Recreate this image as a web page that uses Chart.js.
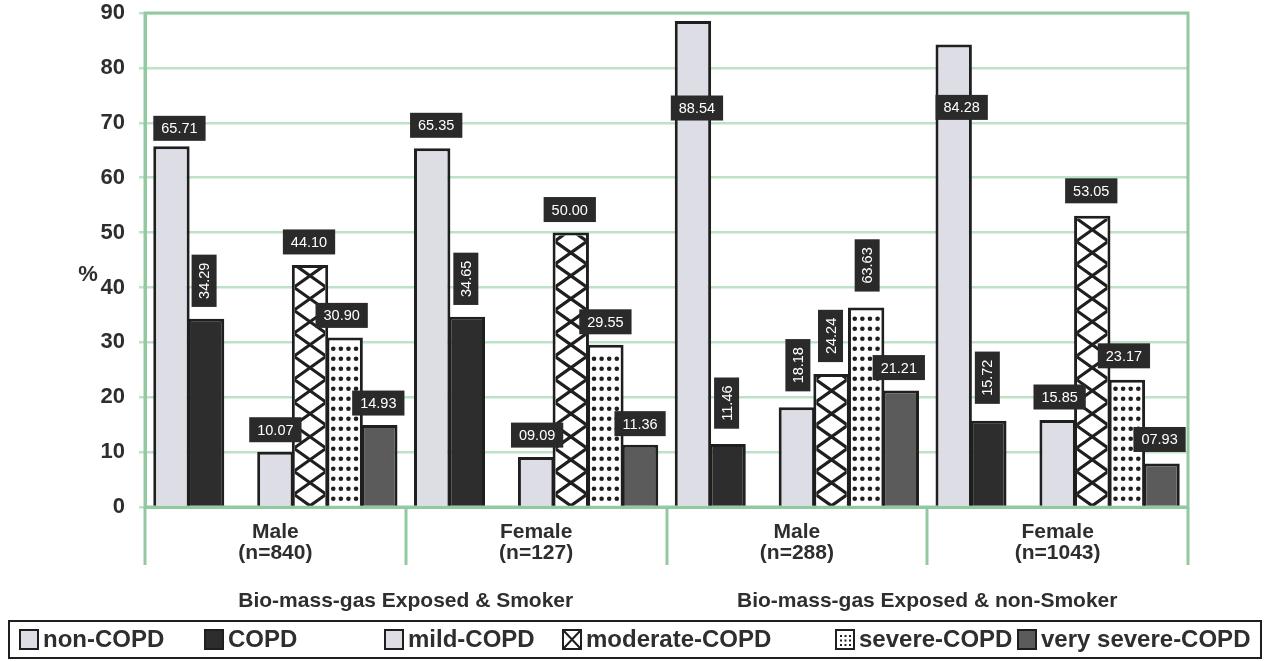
<!DOCTYPE html>
<html>
<head>
<meta charset="utf-8">
<script src="https://cdn.jsdelivr.net/npm/chart.js@4/dist/chart.umd.min.js"></script>
<style>
  html, body { margin: 0; padding: 0; background: #ffffff; }
  #wrap { width: 1271px; height: 661px; position: relative; }
</style>
</head>
<body>
<div id="wrap"><canvas id="c" width="1271" height="661"></canvas></div>
<script>
// ---------------- DATA ----------------
const categories = [["Male", "(n=840)"], ["Female", "(n=127)"], ["Male", "(n=288)"], ["Female", "(n=1043)"]];
const groupLabels = ["Bio-mass-gas Exposed & Smoker", "Bio-mass-gas Exposed & non-Smoker"];
const seriesNames = ["non-COPD", "COPD", "mild-COPD", "moderate-COPD", "severe-COPD", "very severe-COPD"];

const nonCOPD        = [65.71, 65.35, 88.54, 84.28];
const COPD           = [34.29, 34.65, 11.46, 15.72];
const mildCOPD       = [10.07, 9.09, 18.18, 15.85];
const moderateCOPD   = [44.10, 50.00, 24.24, 53.05];
const severeCOPD     = [30.90, 29.55, 36.36, 23.17];
const verySevereCOPD = [14.93, 11.36, 21.21, 7.93];

// printed data labels (as shown in the figure)
const nonCOPDText        = ["65.71", "65.35", "88.54", "84.28"];
const COPDText           = ["34.29", "34.65", "11.46", "15.72"];
const mildCOPDText       = ["10.07", "09.09", "18.18", "15.85"];
const moderateCOPDText   = ["44.10", "50.00", "24.24", "53.05"];
const severeCOPDText     = ["30.90", "29.55", "63.63", "23.17"];
const verySevereCOPDText = ["14.93", "11.36", "21.21", "07.93"];

const yMin = 0, yMax = 90, yStep = 10;

// ---------------- STYLE / LAYOUT ----------------
const FONT = '"Liberation Sans", Arial, Helvetica, sans-serif';
const TXT = '#2e2e2e';
const GRID_GREEN = '#bde2c5';
const BORDER_GREEN = '#93c9a0';
const INK = '#1f1f1f';
const LIGHT = '#dcdde5';

// label placement relative to bar top-centre: [dx, dy, vertical]
const labelPlacement = [
  [[8, -18, 0], [4, -23, 0], [4, 87, 0], [8, 63, 0]],          // non-COPD
  [[-2, -38, 1], [-1, -38, 1], [-1, -41, 1], [-1, -43, 1]],    // COPD
  [[0, -22, 0], [1, -22, 0], [1, -42, 1], [2, -23, 0]],        // mild
  [[-1, -23, 0], [-1, -23, 0], [-1, -38, 1], [-1, -25, 0]],    // moderate
  [[-3, -22, 0], [0, -23, 0], [1, -42, 1], [-3, -24, 0]],      // severe
  [[-1, -22, 0], [0, -21, 0], [-2, -23, 0], [-2, -24, 0]]      // very severe
];
const seriesTexts = [nonCOPDText, COPDText, mildCOPDText, moderateCOPDText, severeCOPDText, verySevereCOPDText];
// dataset index of each series (index 2 is an empty spacer slot)
const seriesDatasetIndex = [0, 1, 3, 4, 5, 6];

const legendSwatchX = [20, 205, 385, 563, 836, 1018];

function barDS(label, data, bg) {
  return { label, data, backgroundColor: bg, borderColor: INK, borderWidth: 3,
           borderSkipped: 'start', categoryPercentage: 0.93, barPercentage: 1.05 };
}

const datasets = [
  barDS(seriesNames[0], nonCOPD, LIGHT),
  barDS(seriesNames[1], COPD, '#2d2d2d'),
  barDS('', [null, null, null, null], 'rgba(0,0,0,0)'),
  barDS(seriesNames[2], mildCOPD, LIGHT),
  barDS(seriesNames[3], moderateCOPD, '#ffffff'),
  barDS(seriesNames[4], severeCOPD, '#ffffff'),
  barDS(seriesNames[5], verySevereCOPD, '#5b5b5b')
];

// ---------------- PATTERNS ----------------
function drawCross(ctx, l, r, t, b, cx) {
  const hw = (r - l) / 2 + 1;
  const P = 23;
  ctx.save();
  ctx.beginPath(); ctx.rect(l, t, r - l, b - t); ctx.clip();
  ctx.strokeStyle = INK; ctx.lineWidth = 3.2;
  const n = Math.ceil((b - t) / P) + 2;
  ctx.beginPath();
  for (let k = -2; k <= n; k++) {
    const y0 = b - k * P;
    ctx.moveTo(cx - 2 * hw, y0 + P); ctx.lineTo(cx + 2 * hw, y0 - P);
    ctx.moveTo(cx - 2 * hw, y0 - P); ctx.lineTo(cx + 2 * hw, y0 + P);
  }
  ctx.stroke();
  ctx.restore();
}
function drawDots(ctx, l, r, t, b) {
  ctx.save();
  ctx.beginPath(); ctx.rect(l, t, r - l, b - t); ctx.clip();
  ctx.fillStyle = INK;
  const cols = 4;
  for (let y = b - 7; y > t + 2; y -= 10) {
    for (let i = 0; i < cols; i++) {
      const x = l + (r - l) * (i + 0.5) / cols;
      ctx.beginPath(); ctx.arc(x, y, 2.3, 0, Math.PI * 2); ctx.fill();
    }
  }
  ctx.restore();
}

const decorPlugin = {
  id: 'decor',
  beforeDatasetsDraw(chart) {
    const { ctx, chartArea: a } = chart;
    ctx.save();
    ctx.strokeStyle = BORDER_GREEN; ctx.lineWidth = 3;
    ctx.strokeRect(a.left, a.top, a.right - a.left, a.bottom - a.top);
    ctx.restore();
  },
  afterDatasetsDraw(chart) {
    const ctx = chart.ctx;
    const bw = 3;
    chart.getDatasetMeta(4).data.forEach(el => {
      const p = el.getProps(['x', 'y', 'base', 'width'], true);
      drawCross(ctx, p.x - p.width / 2 + bw, p.x + p.width / 2 - bw, p.y + bw, p.base, p.x);
    });
    chart.getDatasetMeta(5).data.forEach(el => {
      const p = el.getProps(['x', 'y', 'base', 'width'], true);
      drawDots(ctx, p.x - p.width / 2 + bw, p.x + p.width / 2 - bw, p.y + bw, p.base);
    });
  },
  afterDraw(chart) {
    const { ctx, chartArea: a } = chart;
    const xs = chart.scales.x, ys = chart.scales.y;
    const n = categories.length;
    const cw = (a.right - a.left) / n;

    // separators below the axis
    ctx.save();
    ctx.strokeStyle = BORDER_GREEN; ctx.lineWidth = 3;
    for (let i = 0; i <= n; i++) {
      const x = Math.round(a.left + i * cw);
      ctx.beginPath(); ctx.moveTo(x, a.bottom); ctx.lineTo(x, a.bottom + 58); ctx.stroke();
    }
    ctx.restore();

    // group labels
    ctx.save();
    ctx.fillStyle = TXT; ctx.font = 'bold 21px ' + FONT;
    ctx.textAlign = 'center'; ctx.textBaseline = 'middle';
    groupLabels.forEach((g, gi) => {
      const xL = xs.getPixelForValue(gi * 2), xR = xs.getPixelForValue(gi * 2 + 1);
      ctx.fillText(g, (xL + xR) / 2, a.bottom + 94);
    });
    ctx.font = 'bold 22px ' + FONT;
    ctx.fillText('%', 88, ys.getPixelForValue(42.3));
    ctx.restore();

    // data labels
    ctx.save();
    ctx.font = '14.5px ' + FONT;
    ctx.textAlign = 'center'; ctx.textBaseline = 'middle';
    seriesTexts.forEach((texts, si) => {
      const meta = chart.getDatasetMeta(seriesDatasetIndex[si]);
      meta.data.forEach((el, gi) => {
        const p = el.getProps(['x', 'y'], true);
        const [dx, dy, vert] = labelPlacement[si][gi];
        const t = texts[gi];
        const w = ctx.measureText(t).width + 16, h = 25;
        ctx.save();
        ctx.translate(p.x + dx, p.y + dy);
        if (vert) ctx.rotate(-Math.PI / 2);
        ctx.fillStyle = '#2a2a2a';
        ctx.fillRect(-w / 2, -h / 2, w, h);
        ctx.fillStyle = '#ffffff';
        ctx.fillText(t, 0, 1);
        ctx.restore();
      });
    });
    ctx.restore();

    // legend
    ctx.save();
    const ly = 621, lh = 37;
    ctx.strokeStyle = INK; ctx.lineWidth = 2;
    ctx.strokeRect(9, ly, 1252, lh);
    ctx.font = 'bold 24px ' + FONT;
    ctx.textAlign = 'left'; ctx.textBaseline = 'middle';
    const fills = [LIGHT, '#2d2d2d', LIGHT, '#ffffff', '#ffffff', '#5b5b5b'];
    seriesNames.forEach((name, i) => {
      const sx = legendSwatchX[i], sy = ly + 9, sw = 18, sh = 19;
      ctx.fillStyle = fills[i];
      ctx.fillRect(sx, sy, sw, sh);
      if (i === 3) {
        ctx.strokeStyle = INK; ctx.lineWidth = 2;
        ctx.beginPath(); ctx.moveTo(sx, sy); ctx.lineTo(sx + sw, sy + sh);
        ctx.moveTo(sx + sw, sy); ctx.lineTo(sx, sy + sh); ctx.stroke();
      }
      if (i === 4) {
        ctx.fillStyle = INK;
        for (let r = 0; r < 3; r++) for (let c = 0; c < 3; c++) ctx.fillRect(sx + 4 + c * 4.5, sy + 5 + r * 4.5, 2, 2);
      }
      ctx.strokeStyle = INK; ctx.lineWidth = 2;
      ctx.strokeRect(sx, sy, sw, sh);
      ctx.fillStyle = TXT;
      ctx.fillText(name, sx + 23, ly + lh / 2 + 1);
    });
    ctx.restore();
  }
};

const yTickValues = [];
for (let v = yMin; v <= yMax; v += yStep) yTickValues.push(v);

new Chart(document.getElementById('c'), {
  type: 'bar',
  data: { labels: categories, datasets },
  options: {
    responsive: false,
    animation: false,
    events: [],
    layout: { padding: { left: 0, right: 83, top: 13, bottom: 0 } },
    plugins: { legend: { display: false }, tooltip: { enabled: false }, title: { display: false } },
    scales: {
      x: {
        grid: { display: false },
        border: { display: true, color: BORDER_GREEN, width: 3 },
        ticks: { color: TXT, font: { family: FONT, size: 21, weight: 'bold', lineHeight: 1.0 }, padding: 7, maxRotation: 0 },
        afterFit(s) { s.height = 154; s.paddingTop = 0; s.paddingBottom = 0; }
      },
      y: {
        min: yMin, max: yMax,
        afterBuildTicks(s) { s.ticks = yTickValues.map(v => ({ value: v })); },
        ticks: { color: TXT, font: { family: FONT, size: 22, weight: 'bold' }, padding: 14 },
        grid: { color: GRID_GREEN, lineWidth: 2.5, tickLength: 6, drawTicks: true },
        border: { display: true, color: BORDER_GREEN, width: 3 },
        afterFit(s) { s.width = 145; s.paddingTop = 0; s.paddingBottom = 0; }
      }
    }
  },
  plugins: [decorPlugin]
});
</script>
</body>
</html>
